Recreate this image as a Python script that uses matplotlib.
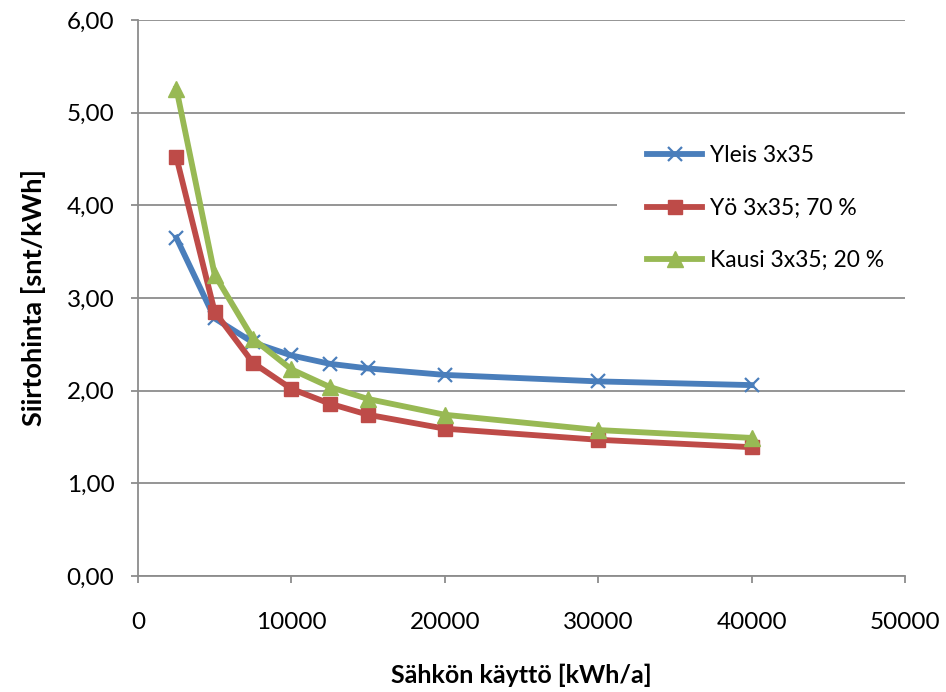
import matplotlib
matplotlib.use("Agg")
import matplotlib.pyplot as plt
from matplotlib.ticker import FuncFormatter
from matplotlib.patches import Rectangle

x_values = [2500, 5000, 7500, 10000, 12500, 15000, 20000, 30000, 40000]
yleis = [3.65, 2.78, 2.52, 2.38, 2.29, 2.24, 2.17, 2.10, 2.06]
yo = [4.52, 2.85, 2.30, 2.02, 1.86, 1.74, 1.59, 1.47, 1.39]
kausi = [5.26, 3.25, 2.56, 2.23, 2.04, 1.91, 1.74, 1.575, 1.49]
series_labels = ["Yleis 3x35", "Yö 3x35; 70 %", "Kausi 3x35; 20 %"]
x_label = "Sähkön käyttö [kWh/a]"
y_label = "Siirtohinta [snt/kWh]"

plt.rcParams['font.family'] = ['Lato', 'DejaVu Sans']

W, H = 946, 692
fig = plt.figure(figsize=(W/100, H/100), dpi=100)
L, R, T, B = 138, 905, 20, 576
ax = fig.add_axes([L/W, 1 - B/H, (R-L)/W, (B-T)/H])

c_blue = '#4A7EBB'
c_red = '#BE4B48'
c_green = '#98B954'

ax.plot(x_values, yleis, color=c_blue, lw=4.2, marker='x', markersize=10,
        markeredgewidth=1.6, label=series_labels[0], zorder=3)
ax.plot(x_values, yo, color=c_red, lw=4.2, marker='s', markersize=10,
        label=series_labels[1], zorder=4)
ax.plot(x_values, kausi, color=c_green, lw=4.2, marker='^', markersize=11.5,
        label=series_labels[2], zorder=5)

ax.set_xlim(0, 50000)
ax.set_ylim(0, 6)
ax.set_xticks(range(0, 50001, 10000))
ax.set_yticks(range(0, 7))
ax.yaxis.set_major_formatter(FuncFormatter(lambda v, p: f"{v:.2f}".replace('.', ',')))
ax.xaxis.set_major_formatter(FuncFormatter(lambda v, p: f"{int(v)}"))

ax.grid(axis='y', color='#8C8C8C', lw=1.3, zorder=0)
ax.set_axisbelow(True)
for s in ['top', 'right']:
    ax.spines[s].set_visible(False)
for s in ['left', 'bottom']:
    ax.spines[s].set_color('#8C8C8C')
    ax.spines[s].set_linewidth(1.3)
ax.tick_params(axis='both', direction='out', length=5, width=1.3, color='#8C8C8C',
               labelsize=17.5, labelcolor='#000000')
ax.tick_params(axis='x', pad=21)
ax.tick_params(axis='y', pad=12)

ax.set_xlabel(x_label, fontsize=18, fontweight='bold', labelpad=22)
ax.set_ylabel(y_label, fontsize=19.5, fontweight='bold', labelpad=15)

# white backdrop of the legend area (hides the gridline behind the legend)
ax.add_patch(Rectangle(((617-L)/(R-L), 1 - (285-T)/(B-T)), (R-617)/(R-L), (285-130)/(B-T),
                       transform=ax.transAxes, facecolor='white', edgecolor='none',
                       zorder=1.5, clip_on=False))

leg = ax.legend(loc='upper left', bbox_to_anchor=((647-L)/(R-L), 1 - (145-T)/(B-T)),
                frameon=False, fontsize=16.5, handlelength=2.4, handletextpad=0.35,
                labelspacing=1.38, borderpad=0, borderaxespad=0)

fig.savefig("out.png", dpi=100)
